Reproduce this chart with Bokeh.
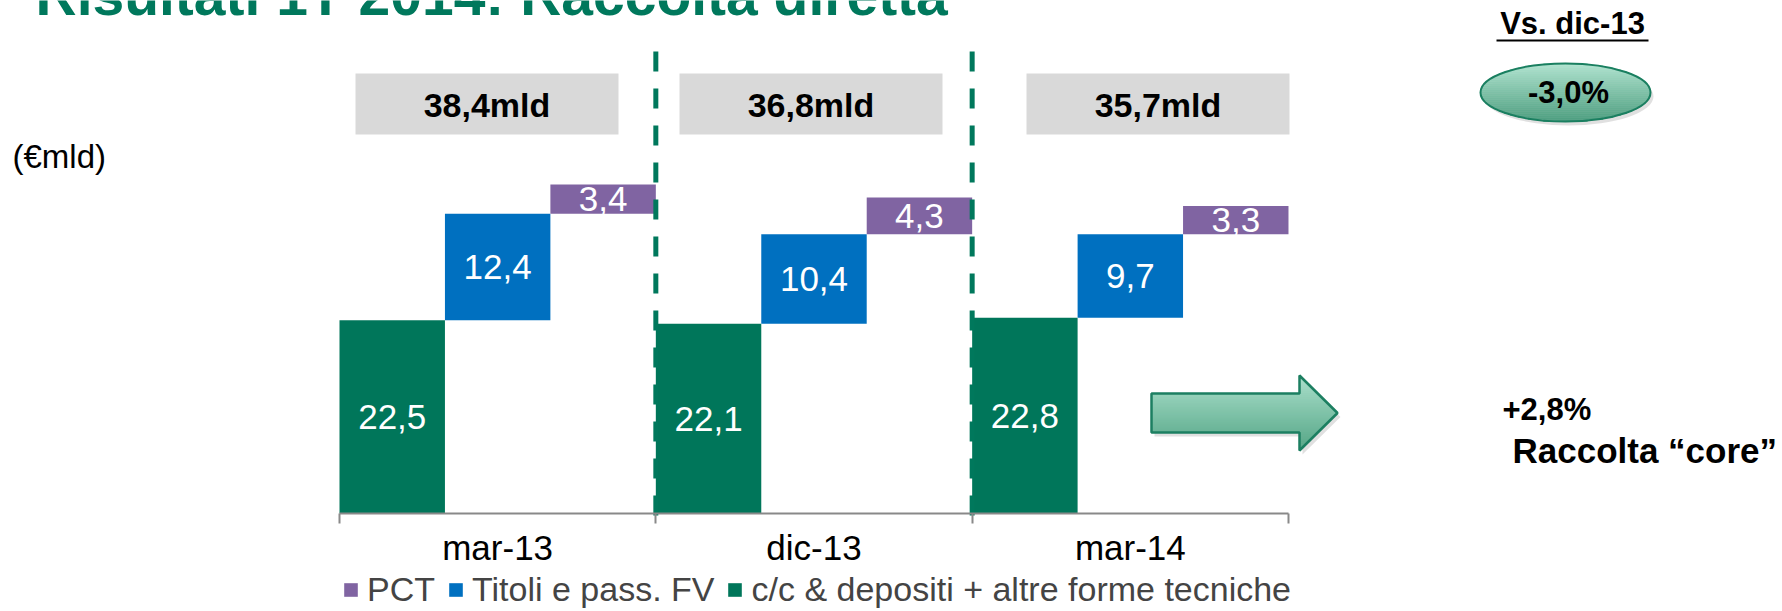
import math
from bokeh.plotting import figure
from bokeh.models import Range1d, LinearAxis, FixedTicker, Legend, LegendItem, ColumnDataSource, Label
from bokeh.core.properties import value
from bokeh.embed import file_html
from bokeh.resources import INLINE

# ---------------- data ----------------
periods = ["mar-13", "dic-13", "mar-14"]
cc_depositi = [22.5, 22.1, 22.8]          # c/c & depositi + altre forme tecniche
titoli_fv = [12.4, 10.4, 9.7]             # Titoli e pass. FV
pct = [3.4, 4.3, 3.3]                     # PCT
totals = [38.4, 36.8, 35.7]               # totale raccolta diretta (mld)
series_labels = ["c/c & depositi + altre forme tecniche", "Titoli e pass. FV", "PCT"]
title_text = "Risultati 1T 2014: Raccolta diretta"
unit_text = "(€mld)"
vs_text = "Vs. dic-13"
vs_change = "-3,0%"
core_change = "+2,8%"
core_text = "Raccolta \u201ccore\u201d"

# ---------------- layout / style ----------------
W, H = 1782, 611
X0, CAT = 339.0, 316.33      # px of first category start, px per category
AXIS_Y, UNIT = 513.0, 8.59   # px of value 0, px per unit

def dx(px): return (px - X0) / CAT
def dy(py): return (AXIS_Y - py) / UNIT

FONT = "Liberation Sans"
GREEN_T = "#00785C"
colors = ["#00765A", "#0070C0", "#8064A2"]

def mix(c1, c2, t):
    a = [int(c1[i:i + 2], 16) for i in (1, 3, 5)]
    b = [int(c2[i:i + 2], 16) for i in (1, 3, 5)]
    return "#%02x%02x%02x" % tuple(round(a[k] + (b[k] - a[k]) * t) for k in range(3))

def fmt(v):
    return f"{v:.1f}".replace(".", ",")

p = figure(width=W, height=H, x_range=Range1d(dx(0), dx(W)), y_range=Range1d(dy(H), dy(0)),
           x_axis_location=None, y_axis_location=None, toolbar_location=None,
           output_backend="svg", min_border=0, outline_line_color=None)
p.grid.visible = False

n = len(periods)

# grey total boxes
box_lefts = [355, 679, 1026]
box_w = 263
bsrc = ColumnDataSource(dict(
    left=[dx(l) for l in box_lefts], right=[dx(l + box_w) for l in box_lefts],
    top=[dy(73)] * n, bottom=[dy(134)] * n,
    xc=[dx(l + box_w / 2) for l in box_lefts], yc=[dy(104)] * n,
    lab=[fmt(t) + "mld" for t in totals]))
p.quad(left="left", right="right", top="top", bottom="bottom", source=bsrc,
       fill_color="#D9D9D9", line_color=None)
p.text(x="xc", y="yc", text="lab", source=bsrc, text_font=value(FONT), text_font_style="bold",
       text_font_size="34px", text_align="center", text_baseline="middle", text_color="#000000")

# waterfall bars
comps = [cc_depositi, titoli_fv, pct]
renderers = []
for j, (vals, col) in enumerate(zip(comps, colors)):
    base = [sum(c[i] for c in comps[:j]) for i in range(n)]
    left = [i + j / 3 for i in range(n)]
    right = [i + (j + 1) / 3 for i in range(n)]
    top = [b + v for b, v in zip(base, vals)]
    src = ColumnDataSource(dict(left=left, right=right, bottom=base, top=top,
                                xc=[(a + b) / 2 for a, b in zip(left, right)],
                                yc=[(a + b) / 2 for a, b in zip(base, top)],
                                lab=[fmt(v) for v in vals]))
    r = p.quad(left="left", right="right", bottom="bottom", top="top", source=src,
               fill_color=col, line_color=None)
    p.text(x="xc", y="yc", text="lab", source=src, text_color="white", text_font=value(FONT),
           text_font_size="35px", text_align="center", text_baseline="middle")
    renderers.append(r)

# dashed separators between periods
bounds_x = list(range(1, n))
p.segment(x0=bounds_x, y0=[dy(51)] * len(bounds_x), x1=bounds_x, y1=[dy(526)] * len(bounds_x),
          line_color=GREEN_T, line_width=5, line_dash="20 17")

# category axis
axis = LinearAxis(fixed_location=0, bounds=(0, n),
                  ticker=FixedTicker(ticks=[i + 0.5 for i in range(n)], minor_ticks=list(range(n + 1))),
                  major_label_overrides={i + 0.5: periods[i] for i in range(n)})
axis.axis_line_color = "#898989"
axis.axis_line_width = 2
axis.major_tick_line_color = None
axis.major_tick_in = 0
axis.major_tick_out = 0
axis.minor_tick_in = 0
axis.minor_tick_out = 10
axis.minor_tick_line_color = "#898989"
axis.minor_tick_line_width = 2
axis.major_label_text_font = FONT
axis.major_label_text_font_size = "35px"
axis.major_label_text_color = "#000000"
axis.major_label_standoff = 4
p.add_layout(axis, "below")

# legend
legend = Legend(items=[LegendItem(label=series_labels[2], renderers=[renderers[2]]),
                       LegendItem(label=series_labels[1], renderers=[renderers[1]]),
                       LegendItem(label=series_labels[0], renderers=[renderers[0]])],
                orientation="horizontal", location=(342, 2), glyph_width=17, glyph_height=17,
                label_text_font=FONT, label_text_font_size="34px", label_standoff=8, spacing=12,
                padding=0, margin=0, label_height=17, background_fill_alpha=0, border_line_alpha=0)
p.add_layout(legend)

# title (cut at top as in the slide)
p.add_layout(Label(x=dx(35), y=dy(-6), text=title_text, text_font=FONT, text_font_style="bold",
                   text_font_size="57px", text_color=GREEN_T, text_align="left", text_baseline="middle"))

# unit
p.text(x=[dx(12)], y=[dy(156)], text=[unit_text], text_font=value(FONT), text_font_size="33px",
       text_align="left", text_baseline="middle", text_color="#000000")

# Vs. dic-13 with underline
p.text(x=[dx(1572)], y=[dy(23)], text=[vs_text], text_font=value(FONT), text_font_style="bold",
       text_font_size="31px", text_align="center", text_baseline="middle", text_color="#000000")
p.segment(x0=[dx(1496)], y0=[dy(40)], x1=[dx(1648)], y1=[dy(40)], line_color="#000000", line_width=2)

# ellipse badge with gradient
ecx, ecy, ew, eh = 1565, 92, 170, 58
p.ellipse(x=[dx(ecx + 3)], y=[dy(ecy + 4)], width=[ew / CAT], height=[eh / UNIT],
          fill_color="#000000", fill_alpha=0.12, line_color=None)
NB = 29
el, er, et, eb, ec = [], [], [], [], []
for k in range(NB):
    yt = ecy - eh / 2 + k * eh / NB
    yb = yt + eh / NB
    ym = (yt + yb) / 2
    hw = ew / 2 * math.sqrt(max(0.0, 1 - ((ym - ecy) / (eh / 2)) ** 2))
    el.append(dx(ecx - hw)); er.append(dx(ecx + hw)); et.append(dy(yt - 0.3)); eb.append(dy(yb + 0.3))
    ec.append(mix("#AEE2CE", "#4E9F80", k / (NB - 1)))
p.quad(left=el, right=er, top=et, bottom=eb, fill_color=ec, line_color=None)
p.ellipse(x=[dx(ecx)], y=[dy(ecy)], width=[ew / CAT], height=[eh / UNIT],
          fill_alpha=0, line_color="#1A7F60", line_width=2)
p.text(x=[dx(1568)], y=[dy(92)], text=[vs_change], text_font=value(FONT), text_font_style="bold",
       text_font_size="31px", text_align="center", text_baseline="middle", text_color="#000000")

# arrow with gradient
ax = [1151, 1299, 1299, 1337, 1299, 1299, 1151]
ay = [393, 393, 375, 412.5, 450, 432, 432]
p.patch(x=[dx(v + 3) for v in ax], y=[dy(v + 4) for v in ay], fill_color="#000000", fill_alpha=0.12,
        line_color=None)
NA = 38
al, ar, at, ab, acol = [], [], [], [], []
for k in range(NA):
    yt = 375 + k * 75 / NA
    yb = yt + 75 / NA
    ym = (yt + yb) / 2
    xr = 1299 + 38 * (1 - abs(ym - 412.5) / 37.5)
    xl = 1151 if 393 <= ym <= 432 else 1299
    al.append(dx(xl)); ar.append(dx(xr)); at.append(dy(yt - 0.3)); ab.append(dy(yb + 0.3))
    acol.append(mix("#AADFCB", "#55A686", k / (NA - 1)))
p.quad(left=al, right=ar, top=at, bottom=ab, fill_color=acol, line_color=None)
p.patch(x=[dx(v) for v in ax], y=[dy(v) for v in ay], fill_alpha=0, line_color="#1C7F61", line_width=2.5)

# core deposits note
p.text(x=[dx(1502)], y=[dy(409)], text=[core_change], text_font=value(FONT), text_font_style="bold",
       text_font_size="31px", text_align="left", text_baseline="middle", text_color="#000000")
p.text(x=[dx(1512)], y=[dy(450)], text=[core_text], text_font=value(FONT), text_font_style="bold",
       text_font_size="35px", text_align="left", text_baseline="middle", text_color="#000000")

open("out.html", "w").write(file_html(p, INLINE))
